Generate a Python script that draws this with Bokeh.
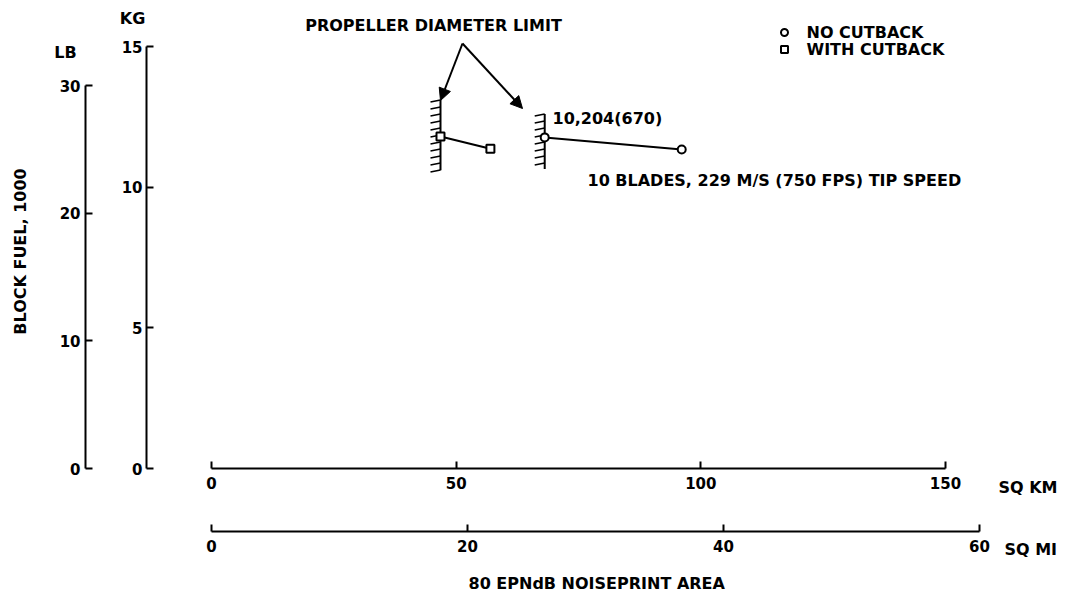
import math
from bokeh.plotting import figure
from bokeh.models import (Range1d, LinearAxis, FixedTicker, Label, Arrow,
                          NormalHead)
from bokeh.embed import file_html
from bokeh.resources import INLINE

# ---------------- data ----------------
with_cutback_km = [46.8, 57.0]
with_cutback_kg = [11.80, 11.37]
no_cutback_km = [68.1, 96.1]
no_cutback_kg = [11.77, 11.34]
limit_top_kg = [13.1, 12.6]
limit_bottom_kg = [10.6, 10.65]

kg_ticks = [0, 5, 10, 15]
lb_ticks = [0, 10, 20, 30]
km_ticks = [0, 50, 100, 150]
mi_ticks = [0, 20, 40, 60]

# ---------------- layout helpers (picture pixel -> data) ----------------
W, H = 1073, 599
OFF = 0
X0, PX_PER_KM = 211.0, 4.893
Y0, PX_PER_KG = 468.0, 28.13
MI0, PX_PER_MI = 211.0, 12.8
LB_PER_KG = 1 / 0.45359237


def kmx(px):
    return (px - X0) / PX_PER_KM


def kgy(py):
    return (Y0 - py) / PX_PER_KG


FONT = "DejaVu Sans"
FS = "16px"
TICK_FS = "15px"

p = figure(width=W, height=H, output_backend="svg", toolbar_location=None,
           x_range=Range1d(kmx(OFF), kmx(OFF + W)),
           y_range=Range1d(kgy(OFF + H), kgy(OFF)),
           x_axis_type=None, y_axis_type=None, min_border=0,
           outline_line_color=None)
p.grid.visible = False
p.background_fill_color = "white"
p.border_fill_color = "white"
p.extra_y_ranges = {"lb": Range1d(kgy(OFF + H) * LB_PER_KG, kgy(OFF) * LB_PER_KG)}
p.extra_x_ranges = {"mi": Range1d((OFF - MI0) / PX_PER_MI, (OFF + W - MI0) / PX_PER_MI)}


def style(ax, standoff):
    ax.axis_line_width = 2
    ax.axis_line_color = "black"
    ax.major_tick_line_width = 2
    ax.major_tick_line_color = "black"
    ax.major_tick_in = 7
    ax.major_tick_out = 0
    ax.minor_tick_line_color = None
    ax.major_label_text_font = FONT
    ax.major_label_text_font_style = "bold"
    ax.major_label_text_font_size = TICK_FS
    ax.major_label_text_color = "black"
    ax.major_label_standoff = standoff


kg_axis = LinearAxis(fixed_location=kmx(146), ticker=FixedTicker(ticks=kg_ticks),
                     bounds=(kg_ticks[0], kg_ticks[-1]))
style(kg_axis, 4)
p.add_layout(kg_axis, "left")

lb_axis = LinearAxis(y_range_name="lb", fixed_location=kmx(85),
                     ticker=FixedTicker(ticks=lb_ticks), bounds=(lb_ticks[0], lb_ticks[-1]))
style(lb_axis, 5)
p.add_layout(lb_axis, "left")

km_axis = LinearAxis(fixed_location=0, ticker=FixedTicker(ticks=km_ticks),
                     bounds=(km_ticks[0], km_ticks[-1]))
style(km_axis, 8)
p.add_layout(km_axis, "below")

mi_axis = LinearAxis(x_range_name="mi", fixed_location=kgy(531),
                     ticker=FixedTicker(ticks=mi_ticks), bounds=(mi_ticks[0], mi_ticks[-1]))
style(mi_axis, 8)
p.add_layout(mi_axis, "below")

# ---------------- propeller diameter limit hatches ----------------
lim_x = [with_cutback_km[0], no_cutback_km[0]]
p.segment(x0=lim_x, y0=limit_bottom_kg, x1=lim_x, y1=limit_top_kg,
          line_color="black", line_width=2)
hx0, hy0, hx1, hy1 = [], [], [], []
step = 7 / PX_PER_KG
hlen = 10 / PX_PER_KM
for xv, lo, hi in zip(lim_x, limit_bottom_kg, limit_top_kg):
    yv = hi
    while yv >= lo - 1e-9:
        hx0.append(xv)
        hy0.append(yv)
        hx1.append(xv - hlen)
        hy1.append(yv - 2 / PX_PER_KG)
        yv -= step
p.segment(x0=hx0, y0=hy0, x1=hx1, y1=hy1, line_color="black", line_width=1.6)

# ---------------- series ----------------
p.line(with_cutback_km, with_cutback_kg, line_color="black", line_width=2)
p.line(no_cutback_km, no_cutback_kg, line_color="black", line_width=2)
p.scatter(with_cutback_km, with_cutback_kg, marker="square", size=8,
          fill_color="white", line_color="black", line_width=2)
p.scatter(no_cutback_km, no_cutback_kg, marker="circle", size=8,
          fill_color="white", line_color="black", line_width=2)

# ---------------- legend (drawn manually) ----------------
p.scatter([kmx(784)], [kgy(32)], marker="circle", size=7,
          fill_color="white", line_color="black", line_width=2)
p.scatter([kmx(784)], [kgy(49)], marker="square", size=7,
          fill_color="white", line_color="black", line_width=2)


def lab(px, py, text, align="left", size=FS, angle=0.0):
    p.add_layout(Label(x=kmx(px), y=kgy(py), text=text, text_font=FONT,
                       text_font_size=size, text_font_style="bold",
                       text_color="black", text_align=align,
                       text_baseline="middle", angle=angle))


lab(806, 32, "NO CUTBACK")
lab(806, 49, "WITH CUTBACK")

# ---------------- annotations ----------------
lab(433, 25, "PROPELLER DIAMETER LIMIT", align="center")
for tx, ty in [(440, 100), (522, 108)]:
    p.add_layout(Arrow(x_start=kmx(462), y_start=kgy(43), x_end=kmx(tx), y_end=kgy(ty),
                       line_color="black", line_width=2,
                       end=NormalHead(size=12, fill_color="black", line_color="black")))
lab(552, 118, "10,204(670)")
lab(587, 180, "10 BLADES, 229 M/S (750 FPS) TIP SPEED")

lab(132, 18, "KG", align="center")
lab(65, 52, "LB", align="center")
lab(20, 251, "BLOCK FUEL, 1000", align="center", angle=math.pi / 2)

lab(998, 487, "SQ KM")
lab(1004, 549, "SQ MI")
lab(599, 583, "80 EPNdB  NOISEPRINT AREA", align="center")

open("out.html", "w").write(file_html(p, INLINE))
